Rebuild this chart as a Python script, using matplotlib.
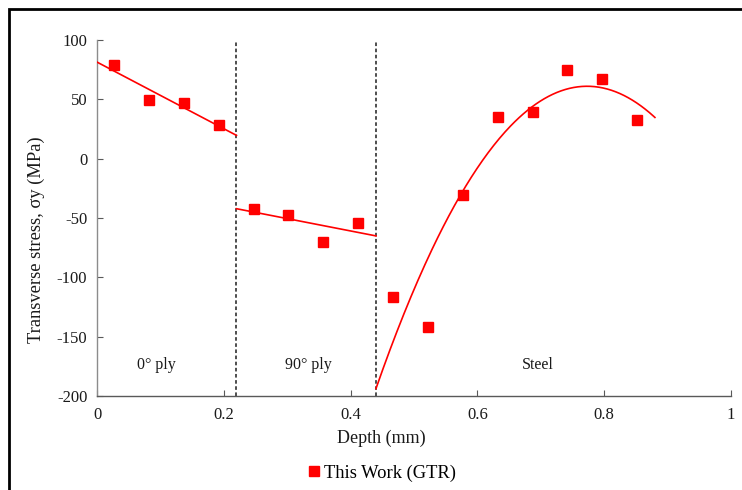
import numpy as np
import matplotlib
matplotlib.use("Agg")
import matplotlib.pyplot as plt
from matplotlib.patches import Rectangle
from matplotlib.lines import Line2D

plt.rcParams['font.family'] = ['Liberation Serif', 'DejaVu Serif']
plt.rcParams['axes.unicode_minus'] = False

# Measured transverse stress by depth, grouped by layer
depth_0ply = [0.027, 0.082, 0.137, 0.192]
stress_0ply = [78.7, 49.2, 46.6, 28.1]

depth_90ply = [0.247, 0.302, 0.357, 0.412]
stress_90ply = [-42.4, -47.7, -70.2, -54.0]

depth_steel = [0.467, 0.522, 0.577, 0.632, 0.687, 0.742, 0.797, 0.852]
stress_steel = [-116.8, -141.8, -30.6, 34.9, 39.1, 75.0, 66.9, 32.6]

# Layer boundaries and trend-line extents
boundaries = [0.22, 0.44]
layer_labels = ["0° ply", "90° ply", "Steel"]
label_x = [0.093, 0.334, 0.695]
label_y = -174
fit_ranges = [(0.0, 0.22), (0.22, 0.44), (0.44, 0.88)]
fit_degree = [1, 1, 2]

red = "#FF0000"

fig = plt.figure(figsize=(7.42, 4.90), dpi=100)
ax = fig.add_axes([97 / 742, 1 - 396 / 490, (731 - 97) / 742, (396 - 40) / 490])

groups = [(depth_0ply, stress_0ply), (depth_90ply, stress_90ply), (depth_steel, stress_steel)]
for (xs, ys), (x0, x1), deg in zip(groups, fit_ranges, fit_degree):
    coef = np.polyfit(xs, ys, deg)
    xx = np.linspace(x0, x1, 200)
    ax.plot(xx, np.polyval(coef, xx), color=red, lw=1.2, zorder=3)
    ax.plot(xs, ys, ls="none", marker="s", ms=7.2, color=red, mec=red, zorder=4)

for b in boundaries:
    ax.axvline(b, color="#404040", lw=1.3, ls=(0, (2.0, 1.4)), zorder=2)

for t, xl in zip(layer_labels, label_x):
    ax.text(xl, label_y, t, ha="center", va="center", fontsize=11.5, color="#1a1a1a")

ax.set_xlim(0, 1)
ax.set_ylim(-200, 100)
ax.set_xticks([0, 0.2, 0.4, 0.6, 0.8, 1])
ax.set_xticklabels(["0", "0.2", "0.4", "0.6", "0.8", "1"])
ax.set_yticks([-200, -150, -100, -50, 0, 50, 100])

for s in ["top", "right"]:
    ax.spines[s].set_visible(False)
ax.spines["left"].set_color("#8c8c8c")
ax.spines["bottom"].set_color("#595959")
ax.spines["left"].set_linewidth(1.0)
ax.spines["bottom"].set_linewidth(1.0)
ax.tick_params(axis="both", direction="in", length=4, width=0.8,
               labelsize=12, labelcolor="#1a1a1a", colors="#595959")
ax.tick_params(axis="x", pad=8)
ax.tick_params(axis="y", pad=7)
for lab in ax.get_xticklabels() + ax.get_yticklabels():
    lab.set_color("#1a1a1a")

fig.text(381 / 742, 1 - 438 / 490, "Depth (mm)", ha="center", va="center",
         fontsize=13, color="#1a1a1a")
fig.text(36 / 742, 1 - 240 / 490, "Transverse stress, σy (MPa)", ha="center",
         va="center", rotation=90, fontsize=13.3, color="#1a1a1a")

handle = Line2D([], [], ls="none", marker="s", ms=7.2, color=red)
fig.legend([handle], ["This Work (GTR)"], loc="center",
           bbox_to_anchor=(380 / 742, 1 - 473 / 490), frameon=False,
           fontsize=13.3, handletextpad=0.05, handlelength=1.0)

# outer frame around the figure
fig.patches.append(Rectangle((9 / 742, -0.1), 1.2, 1 - 9 / 490 + 0.1,
                             transform=fig.transFigure, fill=False,
                             edgecolor="black", lw=2.0))

fig.savefig("out.png", dpi=100)
